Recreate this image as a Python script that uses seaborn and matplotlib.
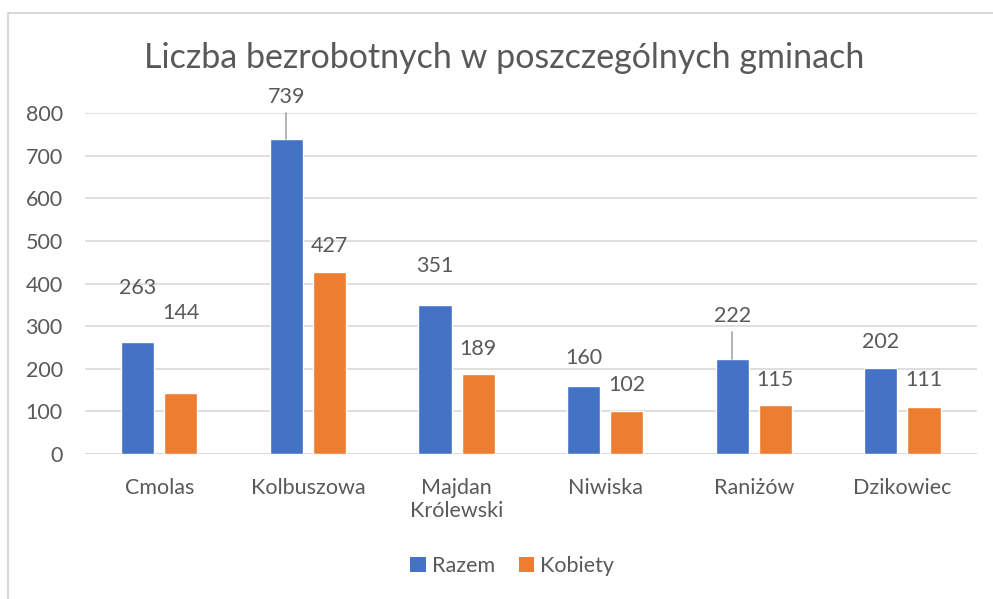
import pandas as pd
import numpy as np
import seaborn as sns
import matplotlib.pyplot as plt
from matplotlib.lines import Line2D
from matplotlib.patches import Patch

# %% data
gminy = ["Cmolas", "Kolbuszowa", "Majdan\nKrólewski", "Niwiska", "Raniżów", "Dzikowiec"]
razem = [263, 739, 351, 160, 222, 202]
kobiety = [144, 427, 189, 102, 115, 111]
series = ["Razem", "Kobiety"]

# label positions were dragged by hand in the original, keep them as offsets (data units)
off_razem = [127, 99, 90, 65, 102, 61]
off_kobiety = [187, 61, 57, 60, 59, 63]
leader = [False, True, False, False, True, False]

df = pd.DataFrame({
    "gmina": gminy * 2,
    "seria": [series[0]] * len(gminy) + [series[1]] * len(gminy),
    "wartosc": razem + kobiety,
})

# %% style
sns.set_style("white")
plt.rcParams['font.family'] = ['Lato', 'DejaVu Sans']
txt = "#595959"
colors = {"Razem": "#4472C4", "Kobiety": "#ED7D31"}
fs = 15.5

fig = plt.figure(figsize=(9.93, 5.99), dpi=100)
ax = fig.add_axes([0.0856, 0.242, 0.898, 0.569])

sns.barplot(data=df, x="gmina", y="wartosc", hue="seria", hue_order=series,
            palette=colors, width=0.58, gap=0.23, ax=ax, legend=False,
            saturation=1, zorder=3)

ax.set_ylim(0, 800)
ax.set_yticks(range(0, 801, 100))
ax.set_xlim(-0.5, len(gminy) - 0.5)
ax.yaxis.grid(True, color="#D9D9D9", linewidth=1.2, zorder=0)
ax.set_axisbelow(True)
for s in ax.spines.values():
    s.set_visible(False)
ax.axhline(0, color="#D9D9D9", linewidth=1.2, zorder=1)
ax.tick_params(axis="both", length=0, labelsize=fs, colors=txt)
ax.tick_params(axis="x", pad=17)
ax.tick_params(axis="y", pad=16)
ax.set_xlabel("")
ax.set_ylabel("")

# data labels
for cont, vals, offs in zip(ax.containers, [razem, kobiety], [off_razem, off_kobiety]):
    for i, (bar, v, o) in enumerate(zip(cont, vals, offs)):
        xc = bar.get_x() + bar.get_width() / 2
        ax.text(xc, v + o, str(v), ha="center", va="center", fontsize=fs,
                color=txt, clip_on=False)
        if cont is ax.containers[0] and leader[i]:
            ax.plot([xc, xc], [v, v + o - 38], color="#A6A6A6", linewidth=1.2,
                    zorder=4, clip_on=False)

fig.text(0.508, 0.903, "Liczba bezrobotnych w poszczególnych gminach",
         ha="center", va="center", fontsize=24.5, color=txt)

handles = [Patch(facecolor=colors[s], edgecolor="none", label=s) for s in series]
fig.legend(handles=handles, loc="center", bbox_to_anchor=(0.516, 0.055), ncol=2,
           frameon=False, fontsize=fs, labelcolor=txt, handlelength=0.7,
           handleheight=0.7, handletextpad=0.3, columnspacing=1.1)

# chart border (left and top edges visible in the crop)
bx = 8 / 993
by = 1 - 13 / 599
fig.add_artist(Line2D([bx, bx, 1.0], [0.0, by, by], transform=fig.transFigure,
                      color="#D9D9D9", linewidth=1.5))

fig.savefig("out.png", dpi=100)
